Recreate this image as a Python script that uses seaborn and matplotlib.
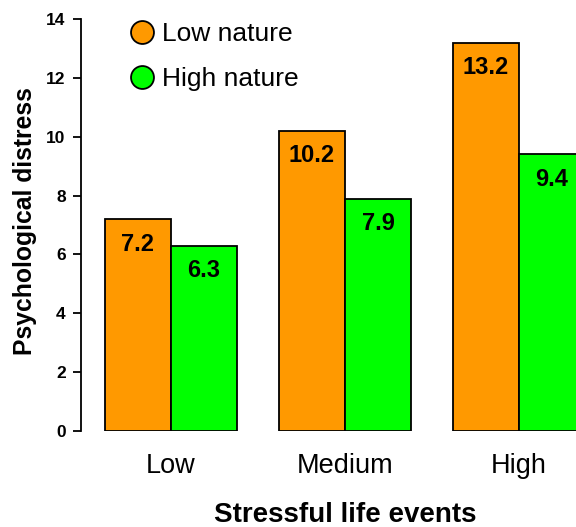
import matplotlib
matplotlib.use("Agg")
import matplotlib.pyplot as plt
from matplotlib.lines import Line2D
import seaborn as sns
import pandas as pd

# Data
events = ["Low", "Medium", "High"]
low_nature = [7.2, 10.2, 13.2]
high_nature = [6.3, 7.9, 9.4]
groups = ["Low nature", "High nature"]
colors = ["#FF9900", "#00FF00"]
yticks = [0, 2, 4, 6, 8, 10, 12, 14]

df = pd.DataFrame({
    "events": events * 2,
    "distress": low_nature + high_nature,
    "nature": [groups[0]] * 3 + [groups[1]] * 3,
})

sns.set_theme(style="white")
plt.rcParams["font.family"] = ["Liberation Sans", "DejaVu Sans"]
plt.rcParams["text.color"] = "black"
plt.rcParams["axes.labelcolor"] = "black"
plt.rcParams["xtick.color"] = "black"
plt.rcParams["ytick.color"] = "black"

fig = plt.figure(figsize=(5.76, 5.27), dpi=100)
ax = fig.add_axes([0.1406, 0.182, 0.8594, 0.782])

sns.barplot(data=df, x="events", y="distress", hue="nature",
            order=events, hue_order=groups, palette=colors,
            width=0.76, edgecolor="black", linewidth=1.3,
            saturation=1, errorbar=None, legend=False, ax=ax)

ax.set_xlim(-0.517, 2.328)
ax.set_ylim(0, 14)
ax.set_yticks(yticks)
ax.set_yticklabels([str(t) for t in yticks], fontsize=12.5, fontweight="bold")
ax.tick_params(axis="y", direction="out", length=6, width=1.3, color="black", left=True, pad=5)
ax.tick_params(axis="x", length=0, pad=16, labelsize=19.5)

for side in ["top", "right", "bottom"]:
    ax.spines[side].set_visible(False)
ax.spines["left"].set_color("black")
ax.spines["left"].set_linewidth(1.3)

# value labels inside the top of each bar
for container, vals in zip(ax.containers, [low_nature, high_nature]):
    for patch, v in zip(container.patches, vals):
        cx = patch.get_x() + patch.get_width() / 2
        ax.annotate(f"{v:.1f}", (cx, v), xytext=(0, -18), textcoords="offset points",
                    ha="center", va="center", fontsize=17, fontweight="bold", color="black")

ax.set_xlabel("Stressful life events", fontsize=20, fontweight="bold")
xl = ax.get_xlim()
ax.xaxis.set_label_coords((1 - xl[0]) / (xl[1] - xl[0]), -0.173)
ax.set_ylabel("Psychological distress", fontsize=17.8, fontweight="bold")
ax.yaxis.set_label_coords(-0.088, 0.51)

handles = [Line2D([], [], marker="o", linestyle="none", markersize=16.5,
                  markerfacecolor=c, markeredgecolor="black", markeredgewidth=1.3)
           for c in colors]
ax.legend(handles, groups, loc="upper left", bbox_to_anchor=(0.0956, 0.993),
          frameon=False, fontsize=19, handlelength=1.0, handletextpad=0.28,
          labelspacing=0.82, borderaxespad=0, borderpad=0)

fig.savefig("out.png", dpi=100)
